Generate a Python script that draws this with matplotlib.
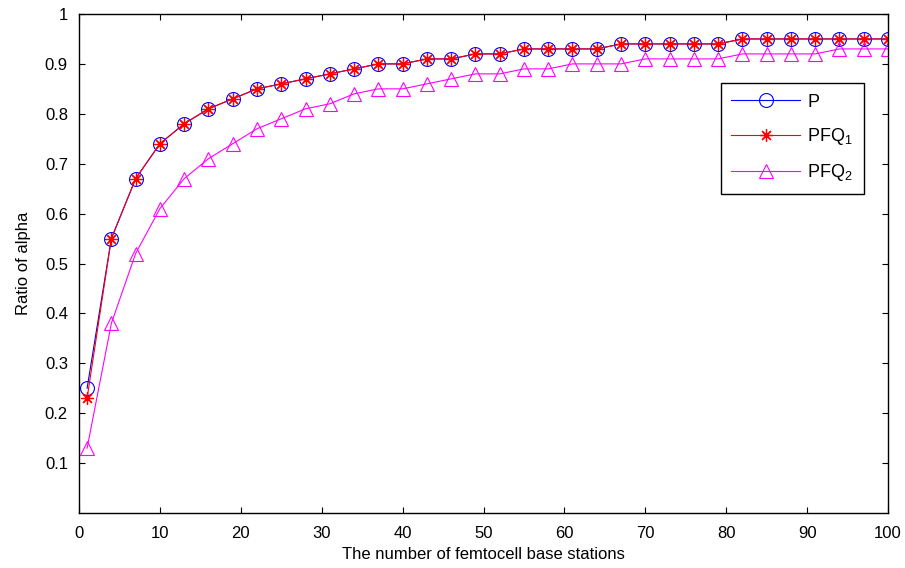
import matplotlib
import numpy as np
import matplotlib.pyplot as plt

matplotlib.use("agg")

plt.rcParams["font.family"] = ["Liberation Sans", "DejaVu Sans"]
plt.rcParams["mathtext.fontset"] = "custom"
plt.rcParams["mathtext.rm"] = "Liberation Sans"
plt.rcParams["mathtext.it"] = "Liberation Sans:italic"

# number of femtocell base stations: 1, 4, 7, ..., 100
stations = [1, 4, 7, 10, 13, 16, 19, 22, 25, 28, 31, 34, 37, 40, 43, 46, 49,
            52, 55, 58, 61, 64, 67, 70, 73, 76, 79, 82, 85, 88, 91, 94, 97, 100]

p_ratio = [0.25, 0.55, 0.67, 0.74, 0.78, 0.81, 0.83, 0.85, 0.86, 0.87, 0.88,
           0.89, 0.90, 0.90, 0.91, 0.91, 0.92, 0.92, 0.93, 0.93, 0.93, 0.93,
           0.94, 0.94, 0.94, 0.94, 0.94, 0.95, 0.95, 0.95, 0.95, 0.95, 0.95, 0.95]
pfq1_ratio = [0.23, 0.55, 0.67, 0.74, 0.78, 0.81, 0.83, 0.85, 0.86, 0.87, 0.88,
              0.89, 0.90, 0.90, 0.91, 0.91, 0.92, 0.92, 0.93, 0.93, 0.93, 0.93,
              0.94, 0.94, 0.94, 0.94, 0.94, 0.95, 0.95, 0.95, 0.95, 0.95, 0.95, 0.95]
pfq2_ratio = [0.13, 0.38, 0.52, 0.61, 0.67, 0.71, 0.74, 0.77, 0.79, 0.81, 0.82,
              0.84, 0.85, 0.85, 0.86, 0.87, 0.88, 0.88, 0.89, 0.89, 0.90, 0.90,
              0.90, 0.91, 0.91, 0.91, 0.91, 0.92, 0.92, 0.92, 0.92, 0.93, 0.93, 0.93]

fig = plt.figure(figsize=(9.05, 5.68), dpi=100)
ax = fig.add_axes([79 / 905, 1 - 513 / 568, (888 - 79) / 905, (513 - 14) / 568])

ax.plot(stations, p_ratio, color="#0000ff", lw=0.8, marker="o", ms=10,
        mfc="none", mec="#0000ff", mew=0.8, label="P")
ax.plot(stations, pfq1_ratio, color="#ff0000", lw=0.8, marker=(8, 2, 0), ms=9,
        mfc="none", mec="#ff0000", mew=0.9, label="PFQ$_1$")
ax.plot(stations, pfq2_ratio, color="#ff00ff", lw=0.8, marker="^", ms=10,
        mfc="none", mec="#ff00ff", mew=0.8, label="PFQ$_2$")

ax.set_xlim(0, 100)
ax.set_ylim(0, 1)
ax.set_xticks(np.arange(0, 101, 10))
yt = np.round(np.arange(0.1, 1.01, 0.1), 1)
ax.set_yticks(yt)
ax.set_yticklabels(["1" if v == 1 else "%.1f" % v for v in yt])
ax.tick_params(direction="in", top=True, right=True, labelsize=12, length=4,
               width=0.8)
ax.tick_params(axis="x", pad=9)
ax.tick_params(axis="y", pad=8)
for s in ax.spines.values():
    s.set_linewidth(1.0)

ax.set_xlabel("The number of femtocell base stations", fontsize=12, labelpad=5)
ax.set_ylabel("Ratio of alpha", fontsize=12, labelpad=10)

leg = ax.legend(loc="upper right", bbox_to_anchor=(0.970, 0.862), fontsize=13,
                numpoints=1, handlelength=3.8, fancybox=False, framealpha=1,
                edgecolor="black", borderpad=0.6, labelspacing=0.85,
                handletextpad=0.4, borderaxespad=0)
leg.get_frame().set_linewidth(1.0)

fig.savefig("out.png", dpi=100)
